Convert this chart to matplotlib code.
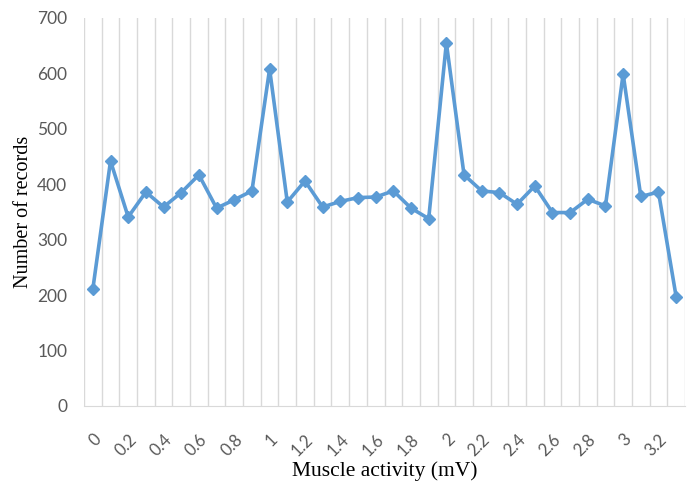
import matplotlib
matplotlib.use("Agg")
import matplotlib.pyplot as plt
import numpy as np

categories = [f"{v/10:g}" for v in range(34)]
values = [211, 442, 341, 386, 359, 385, 417, 357, 372, 388,
          608, 368, 406, 359, 369, 376, 377, 388, 357, 338,
          655, 417, 388, 385, 364, 397, 349, 349, 373, 361,
          599, 378, 386, 197]
tick_labels = [c if i % 2 == 0 else "" for i, c in enumerate(categories)]

fig = plt.figure(figsize=(6.94, 4.84), dpi=100)
ax = fig.add_axes([84/694, 1-406/484, 601/694, 388/484])

x = np.arange(len(values))
ax.plot(x, values, color="#5B9BD5", lw=2.6, marker="D", ms=6.5, zorder=3)

ax.set_xlim(-0.5, len(values) - 0.5)
ax.set_ylim(0, 700)
ax.set_yticks(range(0, 701, 100))

# vertical gridlines at category boundaries
for b in np.arange(-0.5, len(values), 1.0):
    ax.axvline(b, color="#D9D9D9", lw=1, zorder=0)

ax.set_xticks(x)
ax.set_xticklabels(tick_labels, rotation=45, ha="right", va="top",
                   rotation_mode="anchor", family="Lato", fontsize=12, color="#595959")
for lab in ax.get_yticklabels():
    lab.set_family("Lato"); lab.set_fontsize(12.5); lab.set_color("#595959")
ax.tick_params(axis="both", length=0)
ax.tick_params(axis="x", pad=18)
ax.tick_params(axis="y", pad=12)

for s in ["top", "right", "left"]:
    ax.spines[s].set_visible(False)
ax.spines["bottom"].set_color("#D9D9D9")

ax.set_xlabel("Muscle activity (mV)", family="Liberation Serif", fontsize=15.5, color="black", labelpad=2)
ax.set_ylabel("Number of records", family="Liberation Serif", fontsize=14.5, color="black", labelpad=3)

fig.savefig("out.png", dpi=100)
